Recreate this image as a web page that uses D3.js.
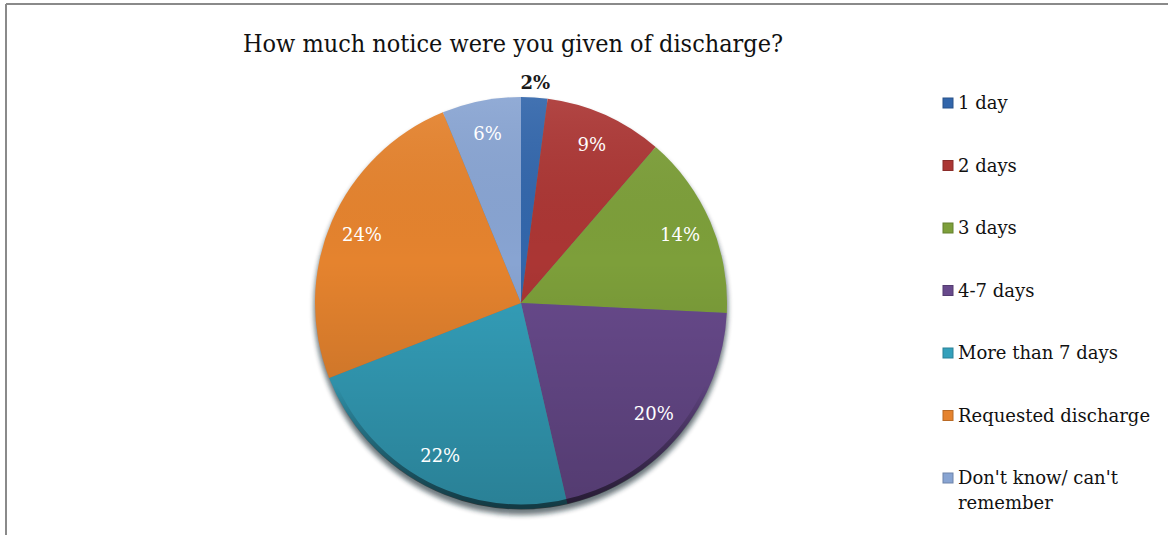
<!DOCTYPE html>
<html><head><meta charset="utf-8">
<script src="https://cdn.jsdelivr.net/npm/d3@7"></script>
<style>html,body{margin:0;padding:0;background:#fff;}svg{display:block;}</style>
</head><body>
<svg id="chart" width="1168" height="535"></svg>
<script>
const categories = ["1 day","2 days","3 days","4-7 days","More than 7 days","Requested discharge","Don't know/ can't remember"];
const values = [2, 9, 14, 20, 22, 24, 6];
const labels = ["2%","9%","14%","20%","22%","24%","6%"];
const colors = ["#3266ab","#ab3634","#7d9f3a","#684a8c","#34a0bb","#e5832e","#88a4d2"];
const title = "How much notice were you given of discharge?";

const FONT = "'DejaVu Serif', 'Liberation Serif', serif";
const svg = d3.select("#chart");
const W = 1168, H = 535;
const cx = 521, cy = 303, R = 206;

// frame
svg.append("line").attr("x1",6).attr("y1",4).attr("x2",W).attr("y2",4).attr("stroke","#8a8a8a").attr("stroke-width",2);
svg.append("line").attr("x1",6).attr("y1",4).attr("x2",6).attr("y2",H).attr("stroke","#8a8a8a").attr("stroke-width",2);

const defs = svg.append("defs");
const blur = defs.append("filter").attr("id","blur").attr("x","-10%").attr("y","-10%").attr("width","120%").attr("height","120%");
blur.append("feGaussianBlur").attr("stdDeviation",2.5);
const shade = defs.append("linearGradient").attr("id","shade").attr("x1",0).attr("y1",0).attr("x2",0).attr("y2",1);
shade.append("stop").attr("offset","0%").attr("stop-color","#fff").attr("stop-opacity",0.08);
shade.append("stop").attr("offset","40%").attr("stop-color","#000").attr("stop-opacity",0.0);
shade.append("stop").attr("offset","100%").attr("stop-color","#000").attr("stop-opacity",0.2);

// title
svg.append("text").attr("x",513).attr("y",52).attr("text-anchor","middle")
  .attr("font-family",FONT).attr("font-size",24).attr("fill","#111")
  .attr("textLength",540).attr("lengthAdjust","spacingAndGlyphs").text(title);

const g = svg.append("g").attr("transform",`translate(${cx},${cy})`);
// shadow
g.append("circle").attr("cx",0).attr("cy",5).attr("r",R+1).attr("fill","#10202a").attr("opacity",0.6).attr("filter","url(#blur)");

const pie = d3.pie().sort(null).value(d=>d)(values);
const arc = d3.arc().innerRadius(0).outerRadius(R);
g.selectAll("path.slice").data(pie).join("path").attr("class","slice")
  .attr("d",arc).attr("fill",(d,i)=>colors[i]);
g.append("circle").attr("r",R).attr("fill","url(#shade)");
// dark rim at bottom
const rimG = defs.append("linearGradient").attr("id","rim").attr("x1",0).attr("y1",0).attr("x2",0).attr("y2",1);
rimG.append("stop").attr("offset","70%").attr("stop-color","#000").attr("stop-opacity",0);
rimG.append("stop").attr("offset","100%").attr("stop-color","#000").attr("stop-opacity",0.55);
g.append("circle").attr("r",R-2).attr("fill","none").attr("stroke","url(#rim)").attr("stroke-width",5);

// labels
const labelArc = d3.arc().innerRadius(R*0.84).outerRadius(R*0.84);
const outArc = d3.arc().innerRadius(R+15).outerRadius(R+15);
g.selectAll("text.lbl").data(pie).join("text").attr("class","lbl")
  .attr("transform",(d,i)=> i===0 ? `translate(${outArc.centroid(d)})` : `translate(${labelArc.centroid(d)})`)
  .attr("text-anchor","middle").attr("dy","0.35em")
  .attr("font-family",FONT).attr("font-size",18)
  .attr("font-weight",(d,i)=> i===0 ? "bold" : "normal")
  .attr("fill",(d,i)=> i===0 ? "#1a1a1a" : "#fff")
  .text((d,i)=>labels[i]);

// legend
const leg = svg.append("g");
const rowY = d3.scalePoint().domain(categories).range([103, 478]);
const items = leg.selectAll("g").data(categories).join("g")
  .attr("transform",d=>`translate(943,${rowY(d)})`);
items.append("rect").attr("x",0).attr("y",-5).attr("width",10).attr("height",10)
  .attr("fill",(d,i)=>colors[i]).attr("stroke",(d,i)=>d3.color(colors[i]).darker(0.6)).attr("stroke-width",1);
items.append("text").attr("x",15).attr("y",6)
  .attr("font-family",FONT).attr("font-size",18).attr("fill","#111")
  .each(function(d){
    const t = d3.select(this);
    if (d.startsWith("Don't")) {
      t.append("tspan").attr("x",15).text("Don't know/ can't");
      t.append("tspan").attr("x",15).attr("dy",25).text("remember");
    } else t.text(d);
  });
</script>
</body></html>
